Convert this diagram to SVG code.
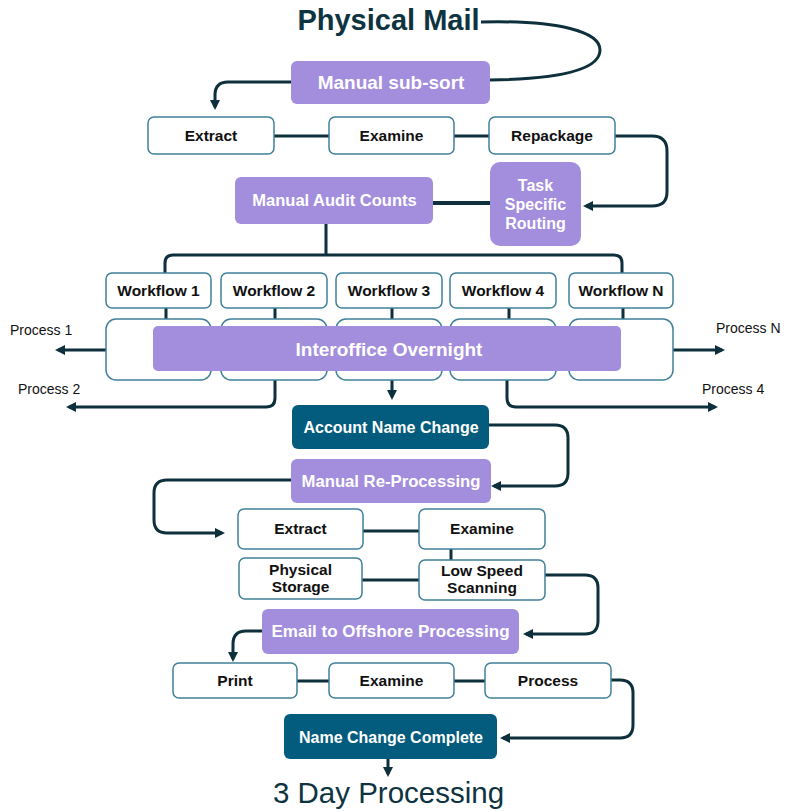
<svg xmlns="http://www.w3.org/2000/svg" width="787" height="812" viewBox="0 0 787 812">
<style>
.purple{fill:#a38ddd}
.teal{fill:#035b7d}
.box{fill:#ffffff;stroke:#3f809b;stroke-width:1.5}
.wt{fill:#ffffff;font-family:"Liberation Sans",Arial,sans-serif;font-weight:bold;text-anchor:middle}
.bt{fill:#111111;font-family:"Liberation Sans",Arial,sans-serif;font-weight:bold;text-anchor:middle;font-size:15.5px}
.lbl{fill:#111111;font-family:"Liberation Sans",Arial,sans-serif;font-size:14px}
.c{fill:none;stroke:#0e2f3c;stroke-width:3}
.a{marker-end:url(#ah)}
</style>
<defs>
<marker id="ah" viewBox="0 0 10 10" refX="7" refY="5" markerWidth="10" markerHeight="10" markerUnits="userSpaceOnUse" orient="auto">
<path d="M0,0 L10,5 L0,10 z" fill="#0e2f3c"/>
</marker>
</defs>
<rect width="787" height="812" fill="#ffffff"/>

<g id="connectors">
<path class="c" d="M481,22 C560,20 600,32 600,50 C600,70 560,79 490,80"/>
<path class="c a" d="M291,82 L228,82 Q215,82 215,95 L215,107"/>
<path class="c" d="M274,136 L329,136 M454,136 L489,136"/>
<path class="c a" d="M615,136 L652,136 Q667,136 667,151 L667,192 Q667,206 652,206 L586,206"/>
<path class="c" style="stroke-width:4" d="M433,203 L490,203"/>
<path class="c" d="M326,224 L326,255 M165,273 L165,263 Q165,255 173,255 L614,255 Q622,255 622,263 L622,273"/>
<path class="c" d="M166,308 L166,319 M275,308 L275,319 M392,308 L392,319 M509,308 L509,319 M623,308 L623,319"/>
<path class="c a" d="M106,350 L58,350"/>
<path class="c a" d="M673,350 L722,350"/>
<path class="c a" d="M275,380 L275,398 Q275,407 266,407 L69,407"/>
<path class="c a" d="M392,380 L392,397"/>
<path class="c a" d="M507,380 L507,398 Q507,407 516,407 L715,407"/>
<path class="c a" d="M489,425 L555,425 Q568,425 568,438 L568,473 Q568,486 555,486 L494,486"/>
<path class="c a" d="M291,480 L167,480 Q154,480 154,493 L154,520 Q154,533 167,533 L222,533"/>
<path class="c" d="M363,531 L419,531"/>
<path class="c" d="M451,549 L451,560"/>
<path class="c" d="M362,580 L419,580"/>
<path class="c a" d="M545,575 L585,575 Q598,575 598,588 L598,621 Q598,634 585,634 L526,634"/>
<path class="c a" d="M262,631 L246,631 Q233,631 233,644 L233,659"/>
<path class="c" d="M297,681 L329,681 M454,681 L485,681"/>
<path class="c a" d="M611,680 L620,680 Q633,680 633,693 L633,725 Q633,738 620,738 L503,738"/>
<path class="c a" d="M388,759 L388,774"/>
</g>

<g id="title">
<text x="388.5" y="30" style="font-family:'Liberation Sans',Arial,sans-serif;font-weight:bold;font-size:29px;fill:#0e3341;text-anchor:middle">Physical Mail</text>
</g>

<g id="manual-sub-sort">
<rect class="purple" x="291" y="61" width="199" height="43" rx="6"/>
<text class="wt" x="391" y="89" font-size="19">Manual sub-sort</text>
</g>

<g id="extract1"><rect class="box" x="148" y="117" width="126" height="37" rx="6"/><text class="bt" x="211" y="141">Extract</text></g>
<g id="examine1"><rect class="box" x="329" y="117" width="125" height="37" rx="6"/><text class="bt" x="391.5" y="141">Examine</text></g>
<g id="repackage"><rect class="box" x="489" y="117" width="126" height="37" rx="6"/><text class="bt" x="552" y="141">Repackage</text></g>

<g id="manual-audit-counts">
<rect class="purple" x="235" y="177" width="198" height="47" rx="6"/>
<text class="wt" x="334.5" y="206" font-size="16.5">Manual Audit Counts</text>
</g>

<g id="task-specific-routing">
<rect class="purple" x="490" y="162" width="91" height="84" rx="10"/>
<text class="wt" x="535.5" y="191" font-size="16">Task</text>
<text class="wt" x="535.5" y="210" font-size="16">Specific</text>
<text class="wt" x="535.5" y="229" font-size="16">Routing</text>
</g>

<g id="workflow-1"><rect class="box" x="106" y="273" width="105" height="35" rx="6"/><text class="bt" x="158.5" y="296">Workflow 1</text></g>
<g id="workflow-2"><rect class="box" x="221" y="273" width="106" height="35" rx="6"/><text class="bt" x="274" y="296">Workflow 2</text></g>
<g id="workflow-3"><rect class="box" x="336" y="273" width="106" height="35" rx="6"/><text class="bt" x="389" y="296">Workflow 3</text></g>
<g id="workflow-4"><rect class="box" x="450" y="273" width="106" height="35" rx="6"/><text class="bt" x="503" y="296">Workflow 4</text></g>
<g id="workflow-n"><rect class="box" x="569" y="273" width="104" height="35" rx="6"/><text class="bt" x="621" y="296">Workflow N</text></g>

<g id="lane-1"><rect class="box" x="106" y="319" width="105" height="61" rx="10"/></g>
<g id="lane-2"><rect class="box" x="221" y="319" width="106" height="61" rx="10"/></g>
<g id="lane-3"><rect class="box" x="336" y="319" width="106" height="61" rx="10"/></g>
<g id="lane-4"><rect class="box" x="450" y="319" width="106" height="61" rx="10"/></g>
<g id="lane-n"><rect class="box" x="569" y="319" width="104" height="61" rx="10"/></g>

<g id="interoffice-overnight">
<rect class="purple" x="153" y="326" width="468" height="45" rx="5"/>
<text class="wt" x="389" y="356" font-size="19">Interoffice Overnight</text>
</g>

<g id="process-labels">
<text class="lbl" x="10" y="335">Process 1</text>
<text class="lbl" x="18" y="394">Process 2</text>
<text class="lbl" x="716" y="333">Process N</text>
<text class="lbl" x="702" y="394">Process 4</text>
</g>

<g id="account-name-change">
<rect class="teal" x="292" y="405" width="197" height="44" rx="6"/>
<text class="wt" x="391" y="433" font-size="16">Account Name Change</text>
</g>

<g id="manual-re-processing">
<rect class="purple" x="291" y="459" width="200" height="44" rx="6"/>
<text class="wt" x="391" y="487" font-size="16.7">Manual Re-Processing</text>
</g>

<g id="extract2"><rect class="box" x="238" y="509" width="125" height="40" rx="6"/><text class="bt" x="300.5" y="534">Extract</text></g>
<g id="examine2"><rect class="box" x="419" y="509" width="126" height="40" rx="6"/><text class="bt" x="482" y="534">Examine</text></g>
<g id="physical-storage"><rect class="box" x="239" y="558" width="123" height="41" rx="6"/>
<text class="bt" x="300.5" y="575" font-size="14">Physical</text><text class="bt" x="300.5" y="592" font-size="14">Storage</text></g>
<g id="low-speed-scanning"><rect class="box" x="419" y="560" width="126" height="40" rx="6"/>
<text class="bt" x="482" y="576" font-size="14">Low Speed</text><text class="bt" x="482" y="593" font-size="14">Scanning</text></g>

<g id="email-offshore">
<rect class="purple" x="262" y="609" width="257" height="45" rx="6"/>
<text class="wt" x="390.5" y="637" font-size="17">Email to Offshore Processing</text>
</g>

<g id="print"><rect class="box" x="173" y="663" width="124" height="35" rx="6"/><text class="bt" x="235" y="686">Print</text></g>
<g id="examine3"><rect class="box" x="329" y="663" width="125" height="35" rx="6"/><text class="bt" x="391.5" y="686">Examine</text></g>
<g id="process"><rect class="box" x="485" y="663" width="126" height="35" rx="6"/><text class="bt" x="548" y="686">Process</text></g>

<g id="name-change-complete">
<rect class="teal" x="284" y="714" width="213" height="45" rx="6"/>
<text class="wt" x="391" y="743" font-size="16">Name Change Complete</text>
</g>

<g id="three-day">
<text x="388.5" y="803" style="font-family:'Liberation Sans',Arial,sans-serif;font-size:29.5px;fill:#0e3341;text-anchor:middle">3 Day Processing</text>
</g>
</svg>
